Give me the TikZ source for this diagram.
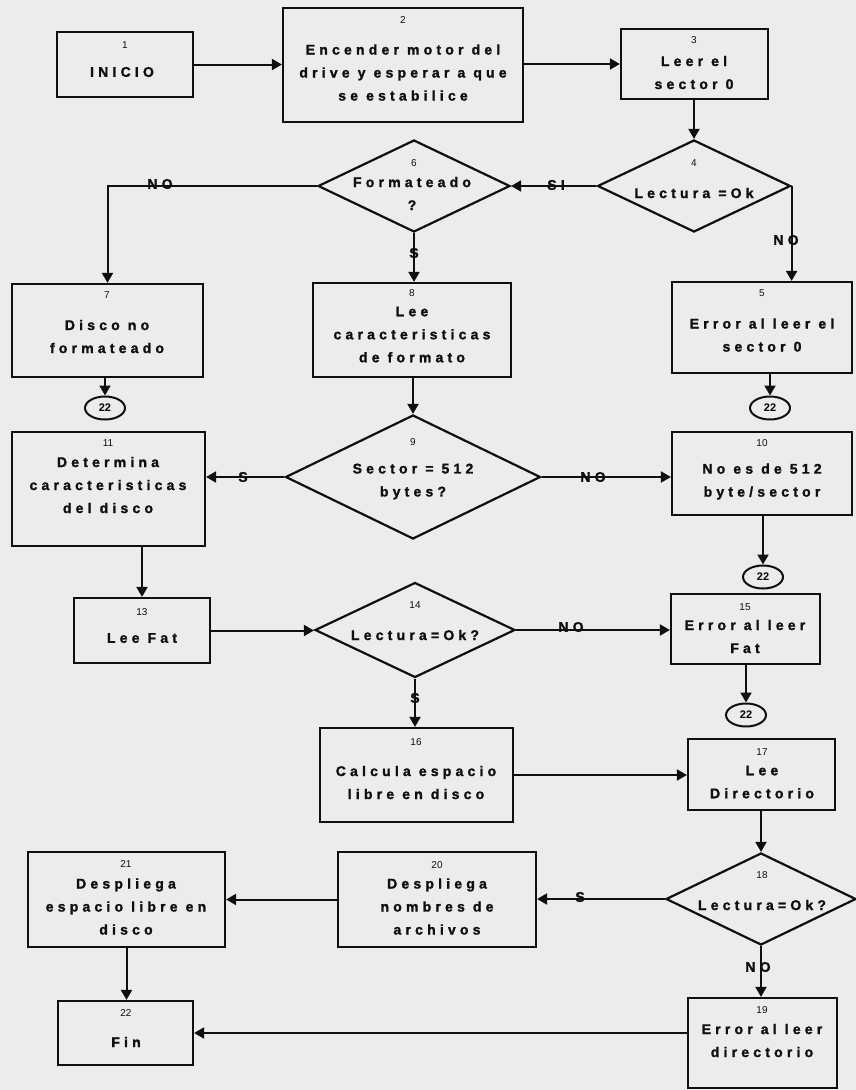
\documentclass[tikz,border=0pt]{standalone}
\usepackage{fontspec}
\usetikzlibrary{arrows.meta,shapes.geometric}
\newfontfamily\bxf[LetterSpace=30,FakeBold=1.5]{Liberation Sans Bold}
\newfontfamily\nmf{Liberation Sans}
\newfontfamily\nbf{Liberation Sans Bold}
\definecolor{paper}{RGB}{236,236,236}
\definecolor{ink}{RGB}{15,15,15}
\tikzset{
  box/.style={draw=ink, line width=2.2pt, rectangle, inner sep=0pt},
  decision/.style={draw=ink, line width=2.2pt, diamond, inner sep=0pt},
  jump/.style={draw=ink, line width=2pt, ellipse, inner sep=0pt,
    minimum width=40pt, minimum height=23pt,
    font=\nbf\fontsize{11}{11}\selectfont},
  txt/.style={font=\bxf\fontsize{14}{23}\selectfont, align=center, inner sep=0pt, text=ink},
  num/.style={font=\nmf\fontsize{10}{10}\selectfont, inner sep=0pt, text=ink},
  elab/.style={font=\bxf\fontsize{14}{14}\selectfont, inner sep=0pt, text=ink},
  flow/.style={draw=ink, line width=2pt, -{Triangle[length=10pt,width=11pt]}},
}
\begin{document}
\begin{tikzpicture}[x=1pt,y=-1pt]
\useasboundingbox (0,0) rectangle (856,1090);
\fill[paper] (0,0) rectangle (856,1090);

% process boxes
\node[box, minimum width=136pt, minimum height=65pt] (b1) at (125,64.5) {};
\node[box, minimum width=240pt, minimum height=114pt] (b2) at (403,65) {};
\node[box, minimum width=147pt, minimum height=70pt] (b3) at (694.5,64) {};
\node[box, minimum width=191pt, minimum height=93pt] (b7) at (107.5,330.5) {};
\node[box, minimum width=198pt, minimum height=94pt] (b8) at (412,330) {};
\node[box, minimum width=180pt, minimum height=91pt] (b5) at (762,327.5) {};
\node[box, minimum width=193pt, minimum height=114pt] (b11) at (108.5,489) {};
\node[box, minimum width=180pt, minimum height=83pt] (b10) at (762,473.5) {};
\node[box, minimum width=136pt, minimum height=65pt] (b13) at (142,630.5) {};
\node[box, minimum width=149pt, minimum height=70pt] (b15) at (745.5,629) {};
\node[box, minimum width=193pt, minimum height=94pt] (b16) at (416.5,775) {};
\node[box, minimum width=147pt, minimum height=71pt] (b17) at (761.5,774.5) {};
\node[box, minimum width=198pt, minimum height=95pt] (b20) at (437,899.5) {};
\node[box, minimum width=197pt, minimum height=95pt] (b21) at (126.5,899.5) {};
\node[box, minimum width=135pt, minimum height=64pt] (b22) at (125.5,1033) {};
\node[box, minimum width=149pt, minimum height=90pt] (b19) at (762.5,1043) {};

% decisions
\node[decision, minimum width=193pt, minimum height=92pt] (d4) at (694,186) {};
\node[decision, minimum width=192pt, minimum height=92pt] (d6) at (414,186) {};
\node[decision, minimum width=255pt, minimum height=124pt] (d9) at (413,477) {};
\node[decision, minimum width=200pt, minimum height=95pt] (d14) at (415,630) {};
\node[decision, minimum width=190pt, minimum height=92pt] (d18) at (761,899) {};

% off-page connectors
\node[jump] (cA) at (105,408) {22};
\node[jump] (cB) at (770,408) {22};
\node[jump] (cC) at (763,577) {22};
\node[jump] (cD) at (746,715) {22};

% step numbers
\node[num] (n1) at (125,45) {1};
\node[num] (n2) at (403,20) {2};
\node[num] (n3) at (694,40) {3};
\node[num] (n4) at (694,163) {4};
\node[num] (n6) at (414,163) {6};
\node[num] (n7) at (107,295) {7};
\node[num] (n8) at (412,293) {8};
\node[num] (n5) at (762,293) {5};
\node[num] (n11) at (108,443) {11};
\node[num] (n9) at (413,442) {9};
\node[num] (n10) at (762,443) {10};
\node[num] (n13) at (142,612) {13};
\node[num] (n14) at (415,605) {14};
\node[num] (n15) at (745,607) {15};
\node[num] (n16) at (416,742) {16};
\node[num] (n17) at (762,752) {17};
\node[num] (n18) at (762,875) {18};
\node[num] (n20) at (437,865) {20};
\node[num] (n21) at (126,864) {21};
\node[num] (n22) at (126,1013) {22};
\node[num] (n19) at (762,1010) {19};

% step texts
\node[txt] (t1) at (122,72) {INICIO};
\node[txt] (t2) at (403,72.5) {Encender motor del\\drive y esperar a que\\se estabilice};
\node[txt] (t3) at (694,72.5) {Leer el\\sector 0};
\node[txt] (t4) at (694,193) {Lectura =Ok};
\node[txt] (t6) at (412,193.5) {Formateado\\?};
\node[txt] (t7) at (107,336.5) {Disco no\\formateado};
\node[txt] (t8) at (412,334.5) {Lee\\caracteristicas\\de formato};
\node[txt] (t5) at (762,335) {Error al leer el\\sector 0};
\node[txt] (t11) at (108,485) {Determina\\caracteristicas\\del disco};
\node[txt] (t9) at (413,481.5) {Sector = 512\\bytes?};
\node[txt] (t10) at (762,481.5) {No es de 512\\byte/sector};
\node[txt] (t13) at (142,638) {Lee Fat};
\node[txt] (t14) at (415,635) {Lectura=Ok?};
\node[txt] (t15) at (745,636.5) {Error al leer\\Fat};
\node[txt] (t16) at (416,782.5) {Calcula espacio\\libre en disco};
\node[txt] (t17) at (762,782) {Lee\\Directorio};
\node[txt] (t18) at (762,905) {Lectura=Ok?};
\node[txt] (t20) at (437,906.5) {Despliega\\nombres de\\archivos};
\node[txt] (t21) at (126,906.5) {Despliega\\espacio libre en\\disco};
\node[txt] (t22) at (126,1042) {Fin};
\node[txt] (t19) at (762,1040.5) {Error al leer\\directorio};

% connectors
\draw[flow] (b1.east) -- (b1.east -| b2.west);
\draw[flow] (b2.east |- b3.west) -- (b3.west);
\draw[flow] (d4.north |- b3.south) -- (d4.north);
\draw[flow] (d4.west) -- (d6.east);
\draw[flow] (d6.west) -| (b7.north);
\draw[flow] (d6.south) -- (d6.south |- b8.north);
\draw[flow] (d4.east) -- (d4.east |- b5.north);
\draw[flow] (cA.north |- b7.south) -- (cA.north);
\draw[flow] (cB.north |- b5.south) -- (cB.north);
\draw[flow] (d9.north |- b8.south) -- (d9.north);
\draw[flow] (d9.west) -- (d9.west -| b11.east);
\draw[flow] (d9.east) -- (d9.east -| b10.west);
\draw[flow] (cC.north |- b10.south) -- (cC.north);
\draw[flow] (b13.north |- b11.south) -- (b13.north);
\draw[flow] (b13.east) -- (b13.east -| d14.west);
\draw[flow] (d14.east) -- (d14.east -| b15.west);
\draw[flow] (cD.north |- b15.south) -- (cD.north);
\draw[flow] (d14.south) -- (d14.south |- b16.north);
\draw[flow] (b16.east) -- (b16.east -| b17.west);
\draw[flow] (d18.north |- b17.south) -- (d18.north);
\draw[flow] (d18.west) -- (d18.west -| b20.east);
\draw[flow] (b20.west) -- (b20.west -| b21.east);
\draw[flow] (d18.south) -- (d18.south |- b19.north);
\draw[flow] (b21.south) -- (b21.south |- b22.north);
\draw[flow] (b19.west |- b22.east) -- (b22.east);

% branch labels
\node[elab] (lSI) at (556,185) {SI};
\node[elab] (lNO6) at (160,184) {NO};
\node[elab] (lS6) at (414,253) {S};
\node[elab] (lNO4) at (786,240) {NO};
\node[elab] (lS9) at (243,477) {S};
\node[elab] (lNO9) at (593,477) {NO};
\node[elab] (lS14) at (415,698) {S};
\node[elab] (lNO14) at (571,627) {NO};
\node[elab] (lS18) at (580,897) {S};
\node[elab] (lNO18) at (758,967) {NO};
\end{tikzpicture}
\end{document}
